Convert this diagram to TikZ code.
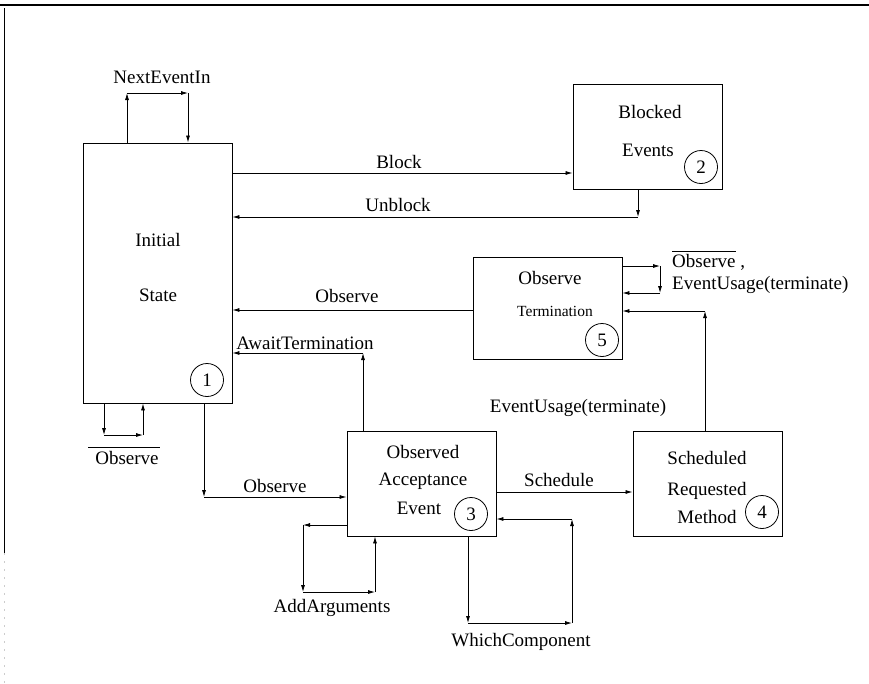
\documentclass[tikz,border=0pt]{standalone}
\usepackage{fontspec}
\setmainfont{Liberation Serif}
\usetikzlibrary{arrows.meta}
\begin{document}
\begin{tikzpicture}[x=1pt,y=-1pt,
  every node/.style={font=\fontsize{19}{22}\selectfont},
  state/.style={draw, line width=0.9pt, minimum width=149pt, inner sep=0pt},
  num/.style={draw, circle, line width=0.8pt, minimum size=33pt, inner sep=0pt},
  lbl/.style={inner sep=0pt},
  arr/.style={line width=0.8pt, -{Latex[length=7pt,width=4pt]}},
  ln/.style={line width=0.8pt}]
\useasboundingbox (0,0) rectangle (869,683);

% page frame
\draw[line width=1.3pt] (0,5) -- (869,5);
\draw[line width=1pt] (4,8) -- (4,553);
\draw[line width=0.6pt, gray!40, dash pattern=on 2pt off 6pt] (4,553) -- (4,683);

% states
\node[state, minimum height=260pt] (init) at (157.5,273) {};
\node[state, minimum height=105pt] (blk)  at (647.5,136.5) {};
\node[state, minimum height=102pt] (term) at (547.5,308) {};
\node[state, minimum height=105pt] (acc)  at (421.5,483.5) {};
\node[state, minimum height=105pt] (sch)  at (707.5,483.5) {};

% state texts
\node[lbl] (initA) at (158,240) {Initial};
\node[lbl] (initB) at (158,295) {State};
\node[lbl] (blkA) at (650,112) {Blocked};
\node[lbl] (blkB) at (648,150) {Events};
\node[lbl] (termA) at (550,278) {Observe};
\node[lbl, font=\fontsize{15.5}{18}\selectfont] (termB) at (555,311) {Termination};
\node[lbl] (accA) at (423,452) {Observed};
\node[lbl] (accB) at (423,481) {Acceptance};
\node[lbl] (accC) at (419,508) {Event};
\node[lbl] (schA) at (707,458) {Scheduled};
\node[lbl] (schB) at (707,491) {Requested};
\node[lbl] (schC) at (707,517) {Method};

% state numbers
\node[num] (n1) at (207,380) {1};
\node[num] (n2) at (701,167) {2};
\node[num] (n3) at (471,514) {3};
\node[num] (n4) at (762,512) {4};
\node[num] (n5) at (602,340) {5};

% bend points
\coordinate (ne1) at (127,93);
\coordinate (ne2) at (188,93);
\coordinate (bk) at (0,173);
\coordinate (ub) at (638,217);
\coordinate (t1) at (660,266);
\coordinate (t2) at (660,293);
\coordinate (ob) at (0,310);
\coordinate (aw) at (363,353);
\coordinate (eu) at (705,311);
\coordinate (il1) at (104,435);
\coordinate (il2) at (143,435);
\coordinate (oa) at (204,497);
\coordinate (ad1) at (303,525);
\coordinate (ad2) at (303,592);
\coordinate (ad3) at (375,592);
\coordinate (wc1) at (468,623);
\coordinate (wc2) at (572,623);
\coordinate (wc3) at (572,519);
\coordinate (sc) at (0,492);

% NextEventIn self loop
\draw[arr] (init.north -| ne1) -- (ne1);
\draw[arr] (ne1) -- (ne2);
\draw[arr] (ne2) -- (init.north -| ne2);
\node[lbl] (lNext) at (162,77) {NextEventIn};

% Block / Unblock
\draw[arr] (init.east |- bk) -- (blk.west |- bk);
\node[lbl] (lBlock) at (399,162) {Block};
\draw[arr] (blk.south -| ub) -- (ub);
\draw[arr] (ub) -- (init.east |- ub);
\node[lbl] (lUnblock) at (398,205) {Unblock};

% Observe Termination self loop
\draw[arr] (term.east |- t1) -- (t1);
\draw[arr] (t1) -- (t2);
\draw[arr] (t2) -- (term.east |- t2);
\node[lbl, anchor=west, align=left] (lTermLoop) at (672,274) {Observe ,\\EventUsage(terminate)};
\draw[ln] (672,251) -- (736,251);

% Observe back to initial state
\draw[arr] (term.west |- ob) -- (init.east |- ob);
\node[lbl] (lObs1) at (347,296) {Observe};

% AwaitTermination
\draw[arr] (acc.north -| aw) -- (aw);
\draw[arr] (aw) -- (init.east |- aw);
\node[lbl] (lAwait) at (305,343) {AwaitTermination};

% EventUsage(terminate)
\draw[arr] (sch.north -| eu) -- (eu);
\draw[arr] (eu) -- (term.east |- eu);
\node[lbl] (lUsage) at (578,408) {EventUsage(terminate)};

% negated Observe self loop on the initial state
\draw[arr] (init.south -| il1) -- (il1);
\draw[arr] (il1) -- (il2);
\draw[arr] (il2) -- (init.south -| il2);
\node[lbl] (lObsBar) at (127,458) {Observe};
\draw[ln] (88,447) -- (160,447);

% Observe to acceptance event
\draw[arr] (init.south -| oa) -- (oa);
\draw[arr] (oa) -- (acc.west |- oa);
\node[lbl] (lObs2) at (275,486) {Observe};

% AddArguments self loop
\draw[arr] (acc.west |- ad1) -- (ad1);
\draw[arr] (ad1) -- (ad2);
\draw[arr] (ad2) -- (ad3);
\draw[arr] (ad3) -- (acc.south -| ad3);
\node[lbl] (lAdd) at (332,608) {AddArguments};

% WhichComponent self loop
\draw[arr] (acc.south -| wc1) -- (wc1);
\draw[arr] (wc1) -- (wc2);
\draw[arr] (wc2) -- (wc3);
\draw[arr] (wc3) -- (acc.east |- wc3);
\node[lbl] (lWhich) at (521,642) {WhichComponent};

% Schedule
\draw[arr] (acc.east |- sc) -- (sch.west |- sc);
\node[lbl] (lSched) at (559,480) {Schedule};
\end{tikzpicture}
\end{document}
